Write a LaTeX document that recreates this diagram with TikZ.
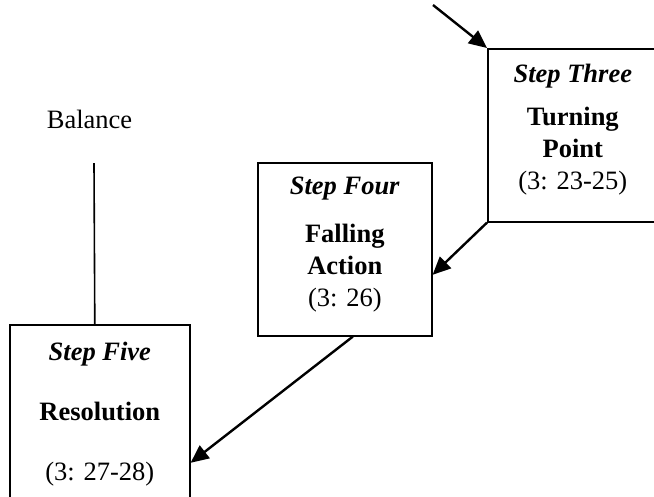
\documentclass[tikz,border=0pt]{standalone}
\usepackage{fontspec}
\setmainfont{Liberation Serif}
\usetikzlibrary{arrows.meta, positioning}

\begin{document}
\begin{tikzpicture}[
    x=1pt, y=-1pt,
    stepbox/.style={rectangle, draw, line width=1.6pt, inner sep=0pt, anchor=north west},
    steptext/.style={anchor=north, inner sep=0pt, align=center, font=\fontsize{26.5}{32}\selectfont},
    flow/.style={-{Triangle[length=18pt, width=16pt]}, line width=2.4pt},
    plain/.style={line width=1.6pt}
]
\clip (0,0) rectangle (654,496);

% The three steps
\node[stepbox, minimum width=170pt, minimum height=173pt] (three) at (487,48) {};
\node[stepbox, minimum width=174pt, minimum height=173pt] (four) at (257,162) {};
\node[stepbox, minimum width=180pt, minimum height=180pt] (five) at (9,324) {};

\node[steptext] (threetext) at ([yshift=-15.9pt]three.north)
    {\textbf{\textit{Step Three}}\\[11pt]\textbf{Turning}\\\textbf{Point}\\(3: 23-25)};
\node[steptext] (fourtext) at ([yshift=-14.9pt]four.north)
    {\textbf{\textit{Step Four}}\\[16pt]\textbf{Falling}\\\textbf{Action}\\(3: 26)};
\node[steptext] (fivetext) at ([yshift=-17.9pt]five.north)
    {\textbf{\textit{Step Five}}\\[28pt]\textbf{Resolution}\\[28pt](3: 27-28)};

% Balance
\node[anchor=base, inner sep=0pt, font=\fontsize{26.5}{32}\selectfont] (balance) at (89.5,128) {Balance};
\coordinate (balanceline) at (94,163);
\coordinate (inflow) at (433,5);

\draw[flow] (inflow) -- (three.north west);
\draw[flow] (three.south west) -- ([yshift=-25.5pt]four.east);
\draw[flow] ([xshift=8pt]four.south) -- ([yshift=-48pt]five.east);
\draw[plain] (balanceline) -- ([xshift=-5pt]five.north);

\end{tikzpicture}
\end{document}
